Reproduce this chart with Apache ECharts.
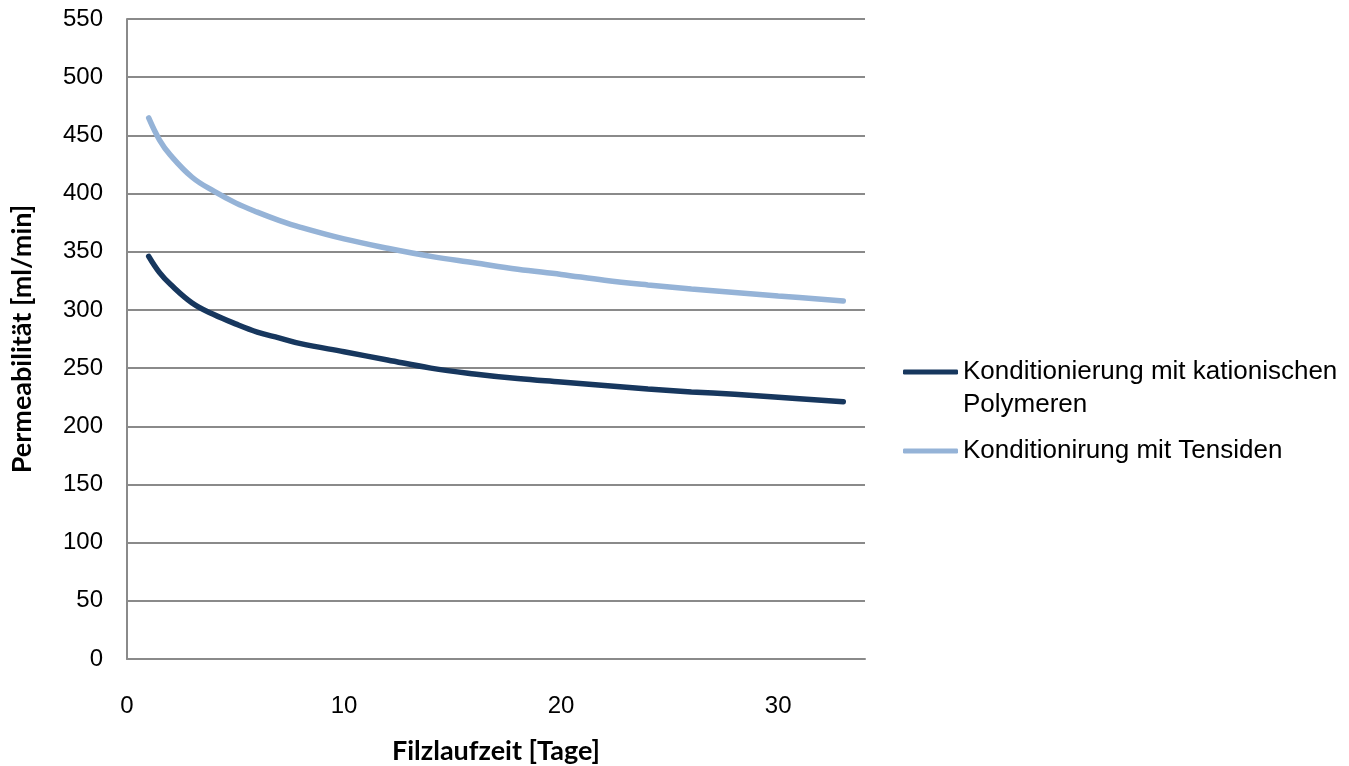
<!DOCTYPE html>
<html><head><meta charset="utf-8">
<script src="https://cdn.jsdelivr.net/npm/echarts@6/dist/echarts.min.js"></script>
<style>html,body{margin:0;padding:0;background:#fff}#c{width:1349px;height:766px}</style>
</head><body><div id="c"></div>
<script>
var days = [1, 1.5, 2, 3, 4, 5, 6, 7, 8, 10, 12, 14, 16, 18, 20, 22, 24, 26, 28, 30, 33];
var polymere = [346, 332, 322, 306, 296, 288, 281, 276, 271, 264, 257, 250, 245, 241, 238, 235, 232, 229.5, 227.5, 225, 221];
var tenside = [465, 446, 433, 414, 402, 392, 384, 377, 371, 361, 353, 346, 340.5, 335, 330.5, 325.5, 321.5, 318, 315, 312, 307.7];
var seriesNames = ['Konditionierung mit kationischen Polymeren', 'Konditionirung mit Tensiden'];
var xTicks = [0, 10, 20, 30];

function pairs(xs, ys) { return xs.map(function (x, i) { return [x, ys[i]]; }); }

var chart = echarts.init(document.getElementById('c'));
var gridColor = '#8a8a8a';
chart.setOption({
  animation: false,
  grid: { left: 127, top: 19, right: 484, bottom: 107, containLabel: false, outerBoundsMode: 'none' },
  xAxis: {
    type: 'value', min: 0, max: 34, interval: 10,
    name: 'Filzlaufzeit [Tage]',
    nameLocation: 'middle', nameGap: 79,
    nameTextStyle: { fontFamily: 'Lato', fontWeight: 'bold', fontSize: 27, color: '#000' },
    axisLine: { show: true, lineStyle: { color: gridColor, width: 2 } },
    axisTick: { show: false },
    splitLine: { show: false },
    axisLabel: {
      margin: 35, fontFamily: 'Liberation Sans', fontSize: 24, color: '#000',
      showMaxLabel: false,
      formatter: function (v) { return xTicks.indexOf(v) >= 0 ? String(v) : ''; }
    }
  },
  yAxis: {
    type: 'value', min: 0, max: 550, interval: 50,
    name: 'Permeabilität [ml/min]',
    nameLocation: 'middle', nameGap: 91, nameRotate: 90,
    nameTextStyle: { fontFamily: 'Lato', fontWeight: 'bold', fontSize: 27, color: '#000' },
    axisLine: { show: true, lineStyle: { color: gridColor, width: 2 } },
    axisTick: { show: false },
    splitLine: { show: true, lineStyle: { color: gridColor, width: 2 } },
    axisLabel: { margin: 24, fontFamily: 'Liberation Sans', fontSize: 24, color: '#000' }
  },
  legend: {
    orient: 'vertical', left: 903, top: 326, padding: 0, itemGap: 20,
    itemWidth: 55, itemHeight: 5, icon: 'roundRect',
    data: seriesNames,
    formatter: function (n) {
      if (n === seriesNames[0]) return '{a| }\n{a|Konditionierung mit kationischen}\n{a|Polymeren}';
      return '{a|' + n + '}';
    },
    textStyle: {
      rich: { a: { fontFamily: 'Liberation Sans', fontSize: 26, lineHeight: 33, color: '#000' } }
    }
  },
  series: [
    { name: seriesNames[0], type: 'line', data: pairs(days, polymere), smooth: 0.4,
      showSymbol: false, symbol: 'none', color: '#17375E',
      lineStyle: { width: 5.5, color: '#17375E', cap: 'round' } },
    { name: seriesNames[1], type: 'line', data: pairs(days, tenside), smooth: 0.4,
      showSymbol: false, symbol: 'none', color: '#95B3D7',
      lineStyle: { width: 5.5, color: '#95B3D7', cap: 'round' } }
  ]
});
</script></body></html>
